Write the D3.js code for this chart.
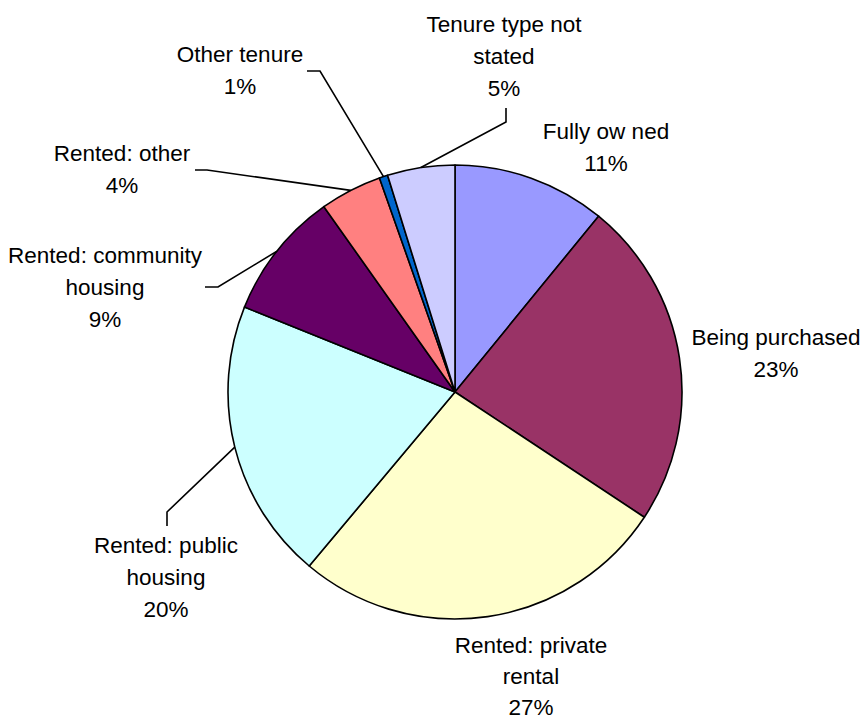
<!DOCTYPE html>
<html>
<head>
<meta charset="utf-8">
<script src="https://cdn.jsdelivr.net/npm/d3@7"></script>
<style>
  html, body { margin: 0; padding: 0; background: #fff; }
  svg text { font-family: "Liberation Sans", Arial, sans-serif; font-size: 22.5px; fill: #000; }
</style>
</head>
<body>
<svg id="chart" width="867" height="719"></svg>
<script>
// tenure shares (%), clockwise from 12 o'clock
const categories = [
  'Fully owned', 'Being purchased', 'Rented: private rental', 'Rented: public housing',
  'Rented: community housing', 'Rented: other', 'Other tenure', 'Tenure type not stated'
];
const values = [10.9, 23.4, 26.8, 20.0, 9.1, 4.4, 0.6, 4.8];
const labelLines = [
  ['Fully ow ned'],
  ['Being purchased'],
  ['Rented: private', 'rental'],
  ['Rented: public', 'housing'],
  ['Rented: community', 'housing'],
  ['Rented: other'],
  ['Other tenure'],
  ['Tenure type not', 'stated']
];
const colors = ['#9999FF', '#993366', '#FFFFCC', '#CCFFFF', '#660066', '#FF8080', '#0066CC', '#CCCCFF'];

// label layout (page coords): text centre x, first baseline y, leader elbow/end or null
const labelLayout = [
  { x: 606, y: 139, leader: null },
  { x: 776, y: 345, leader: null },
  { x: 531, y: 653, leader: null, gap: 31 },
  { x: 166, y: 553, leader: [[167, 512], [167, 526]] },
  { x: 105, y: 263, leader: [[218, 287], [205, 287]] },
  { x: 122, y: 161, leader: [[207, 170], [195, 170]] },
  { x: 240, y: 62,  leader: [[320, 71], [307, 71]] },
  { x: 504, y: 32,  leader: [[506, 122], [506, 108]] }
];

const cx = 455, cy = 392, radius = 227, lineH = 32;
const svg = d3.select('#chart');

const pie = d3.pie().sort(null).value(d => d.value);
const arcs = pie(categories.map((c, i) => ({ name: c, value: values[i], i })));
const arc = d3.arc().innerRadius(0).outerRadius(radius);

const g = svg.append('g').attr('transform', `translate(${cx},${cy})`);
g.selectAll('path.slice')
  .data(arcs)
  .enter().append('path')
  .attr('class', 'slice')
  .attr('d', arc)
  .attr('fill', d => colors[d.data.i])
  .attr('stroke', '#000')
  .attr('stroke-width', 1.6)
  .attr('stroke-linejoin', 'round');

// leader lines from the slice edge at mid-angle
arcs.forEach(d => {
  const lay = labelLayout[d.data.i];
  if (!lay.leader) return;
  const a = (d.startAngle + d.endAngle) / 2;
  const start = [cx + radius * Math.sin(a), cy - radius * Math.cos(a)];
  svg.append('path')
    .attr('d', d3.line()([start, ...lay.leader]))
    .attr('fill', 'none')
    .attr('stroke', '#000')
    .attr('stroke-width', 1.6);
});

// labels: name lines then rounded percentage
arcs.forEach(d => {
  const i = d.data.i;
  const lay = labelLayout[i];
  const step = lay.gap || lineH;
  const lines = labelLines[i].concat([Math.round(values[i]) + '%']);
  const t = svg.append('text').attr('text-anchor', 'middle');
  lines.forEach((ln, k) => {
    t.append('tspan').attr('x', lay.x).attr('y', lay.y + k * step).text(ln);
  });
});
</script>
</body>
</html>
